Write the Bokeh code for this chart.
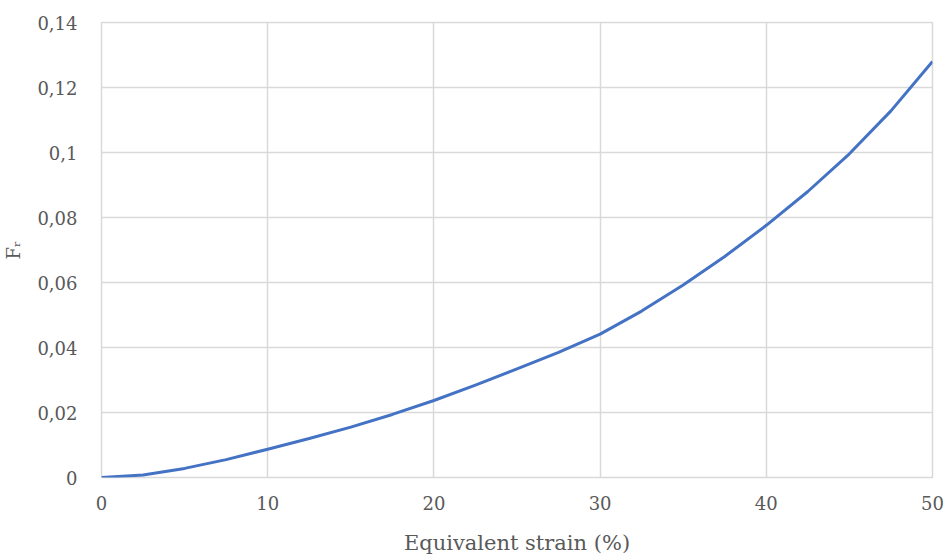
from bokeh.plotting import figure
from bokeh.models import FixedTicker, CustomJSTickFormatter, Range1d
from bokeh.embed import file_html
from bokeh.resources import INLINE

# Data
strain = [0, 2.5, 5, 7.5, 10, 12.5, 15, 17.5, 20, 22.5, 25, 27.5, 30,
          32.5, 35, 37.5, 40, 42.5, 45, 47.5, 50]
fr = [0, 0.0008, 0.0028, 0.0055, 0.0087, 0.012, 0.0155, 0.0194, 0.0237,
      0.0284, 0.0334, 0.0385, 0.0441, 0.0512, 0.0592, 0.0680, 0.0776,
      0.0880, 0.0996, 0.1128, 0.1280]

x_ticks = [0, 10, 20, 30, 40, 50]
y_ticks = [0, 0.02, 0.04, 0.06, 0.08, 0.10, 0.12, 0.14]

x_title = "Equivalent strain (%)"
y_title = "F\u1d63"

FONT = "DejaVu Serif"
TXT = "#595959"
GRID = "#d9d9d9"

p = figure(width=948, height=558, output_backend="svg", toolbar_location=None,
           x_range=Range1d(0, 50), y_range=Range1d(0, 0.14),
           min_border_left=101, min_border_right=16,
           min_border_top=22, min_border_bottom=81,
           background_fill_color="white", border_fill_color="white")

p.line(strain, fr, line_color="#4472C4", line_width=3, line_join="round")

p.xaxis.ticker = FixedTicker(ticks=x_ticks)
p.yaxis.ticker = FixedTicker(ticks=y_ticks)
p.yaxis.formatter = CustomJSTickFormatter(code="""
    return tick.toFixed(2).replace(/0+$/, '').replace(/\\.$/, '').replace('.', ',');
""")

for ax in (p.xaxis, p.yaxis):
    ax.axis_line_color = None
    ax.major_tick_line_color = None
    ax.minor_tick_line_color = None
    ax.major_label_text_font = FONT
    ax.major_label_text_color = TXT
    ax.major_label_text_font_size = "18px"
    ax.axis_label_text_font = FONT
    ax.axis_label_text_color = TXT
    ax.axis_label_text_font_style = "normal"

p.xaxis.axis_label = x_title
p.xaxis.axis_label_text_font_size = "21px"
p.xaxis.major_label_standoff = 12
p.xaxis.axis_label_standoff = 18

p.yaxis.axis_label = y_title
p.yaxis.axis_label_text_font_size = "18px"
p.yaxis.major_label_standoff = 18
p.yaxis.axis_label_standoff = 10

p.xgrid.ticker = FixedTicker(ticks=x_ticks)
p.ygrid.ticker = FixedTicker(ticks=y_ticks)
p.grid.grid_line_color = GRID
p.grid.grid_line_width = 1.5
p.outline_line_color = GRID
p.outline_line_width = 1.5

open("out.html", "w").write(file_html(p, INLINE))
